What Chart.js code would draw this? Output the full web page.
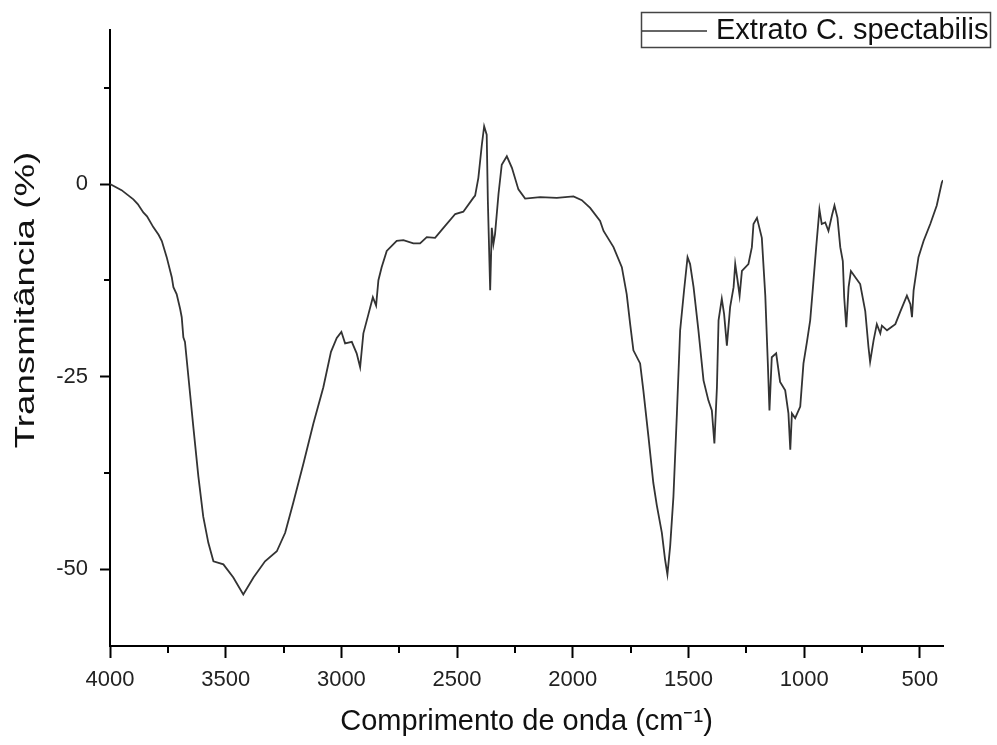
<!DOCTYPE html>
<html>
<head>
<meta charset="utf-8">
<script src="https://cdn.jsdelivr.net/npm/chart.js@4.4.0/dist/chart.umd.min.js"></script>
<style>
  html, body { margin: 0; padding: 0; background: #fff; }
</style>
</head>
<body>
<canvas id="ftirChart" width="997" height="745"></canvas>
<script>
// FTIR spectrum
const wavenumbers = [
  4000, 3950, 3899, 3880, 3856, 3840, 3813, 3790, 3776, 3755, 3733, 3726, 3712, 3697, 3690, 3683, 3676,
  3661, 3640, 3618, 3597, 3575, 3553, 3510, 3467, 3424, 3380, 3330, 3279, 3243, 3208, 3164, 3121, 3078,
  3045, 3020, 3000, 2984, 2955, 2934, 2919, 2905, 2883, 2864, 2850, 2840, 2826, 2804, 2761, 2732, 2689,
  2660, 2631, 2595, 2559, 2508, 2473, 2430, 2422, 2408, 2393, 2383, 2372, 2367, 2357, 2350, 2343, 2336,
  2321, 2307, 2285, 2263, 2235, 2206, 2141, 2069, 1997, 1961, 1925, 1882, 1867, 1824, 1788, 1767, 1752,
  1738, 1709, 1695, 1673, 1652, 1637, 1615, 1601, 1591, 1579, 1565, 1550, 1536, 1519, 1504, 1493, 1478,
  1457, 1435, 1414, 1399, 1388, 1377, 1370, 1356, 1346, 1334, 1320, 1305, 1298, 1288, 1279, 1269, 1241,
  1226, 1219, 1204, 1183, 1168, 1157, 1150, 1140, 1121, 1104, 1082, 1068, 1060, 1053, 1039, 1017, 1003,
  988, 974, 962, 948, 934, 924, 909, 895, 880, 869, 856, 844, 833, 827, 818, 808, 798, 779, 758, 736,
  722, 715, 700, 686, 671, 664, 642, 606, 585, 556, 541, 534, 527, 506, 484, 455, 427, 405, 400
];
const transmittance = [
  0, -0.8, -2.0, -2.6, -3.7, -4.2, -5.6, -6.6, -7.4, -9.5, -12.1, -13.4, -14.3, -16.2, -17.3, -19.9, -20.5,
  -25.1, -31.5, -38.0, -43.2, -46.6, -49.0, -49.4, -51.1, -53.3, -51.1, -49.0, -47.7, -45.3, -41.4, -36.3, -31.1, -26.4,
  -21.8, -20.0, -19.2, -20.7, -20.5, -22.0, -23.8, -19.4, -16.9, -14.7, -15.8, -12.5, -10.8, -8.7, -7.4, -7.3, -7.7,
  -7.7, -6.9, -7.0, -5.7, -3.9, -3.6, -1.8, -1.5, 0.8, 5.1, 7.5, 6.4, -2.2, -13.8, -5.7, -7.8, -6.5,
  -1.3, 2.5, 3.6, 2.1, -0.7, -1.9, -1.7, -1.8, -1.6, -2.1, -3.1, -4.8, -6.1, -8.2, -10.8, -14.3, -18.2,
  -21.6, -23.3, -26.8, -32.8, -38.8, -41.7, -45.3, -48.8, -50.7, -47.0, -40.6, -29.8, -19.0, -13.8, -9.5, -10.4, -13.4,
  -19.0, -25.5, -28.1, -29.4, -33.7, -26.4, -17.7, -14.9, -16.9, -21.0, -16.0, -13.4, -10.4, -12.5, -14.5, -11.3, -10.4,
  -8.2, -5.2, -4.4, -7.0, -14.5, -23.3, -29.4, -22.5, -22.0, -25.7, -26.8, -29.8, -34.5, -29.8, -30.4, -28.9, -23.3,
  -20.5, -17.7, -13.4, -8.2, -3.3, -5.2, -5.0, -6.1, -4.1, -2.8, -4.4, -8.2, -10.0, -14.7, -18.6, -13.4, -11.3, -12.1, -13.0, -16.5,
  -21.2, -23.1, -20.3, -18.2, -19.4, -18.4, -19.0, -18.2, -16.6, -14.5, -15.6, -17.3, -13.8, -9.5, -7.4, -5.2, -2.8, 0.2, 0.5
];
const seriesLabel = 'Extrato C. spectabilis';
const xTitle = 'Comprimento de onda (cm⁻¹)';
const yTitle = 'Transmitância (%)';

const xMajorTicks = [4000, 3500, 3000, 2500, 2000, 1500, 1000, 500];
const xMinorTicks = [3750, 3250, 2750, 2250, 1750, 1250, 750];
const yMajorTicks = [-50, -25, 0];
const yMinorTicks = [-37.5, -12.5, 12.5];

const FONT = "'Liberation Sans', Arial, sans-serif";

// short minor ticks, the y title and the boxed legend in the top right
const extras = {
  id: 'extras',
  afterDraw(chart) {
    const { ctx, chartArea, scales } = chart;
    ctx.save();
    ctx.strokeStyle = '#000';
    ctx.lineWidth = 2;
    ctx.beginPath();
    xMinorTicks.forEach(v => {
      const px = Math.round(scales.x.getPixelForValue(v));
      ctx.moveTo(px, chartArea.bottom);
      ctx.lineTo(px, chartArea.bottom + 7);
    });
    yMinorTicks.forEach(v => {
      const py = Math.round(scales.y.getPixelForValue(v));
      ctx.moveTo(chartArea.left, py);
      ctx.lineTo(chartArea.left - 6, py);
    });
    ctx.stroke();

    // y axis title (the original is drawn a bit stretched along its length)
    ctx.save();
    ctx.translate(27, 300);
    ctx.rotate(-Math.PI / 2);
    ctx.scale(1.36, 1);
    ctx.fillStyle = '#111';
    ctx.font = '27px ' + FONT;
    ctx.textAlign = 'center';
    ctx.textBaseline = 'middle';
    ctx.fillText(yTitle, 0, 0);
    ctx.restore();

    // legend
    const ds = chart.data.datasets[0];
    ctx.lineWidth = 1.5;
    ctx.strokeStyle = '#444';
    ctx.strokeRect(641.5, 12.5, 349, 35);
    ctx.strokeStyle = ds.borderColor;
    ctx.beginPath();
    ctx.moveTo(642, 31);
    ctx.lineTo(707, 31);
    ctx.stroke();
    ctx.fillStyle = '#111';
    ctx.font = '29px ' + FONT;
    ctx.textBaseline = 'middle';
    ctx.fillText(ds.label, 716, 31);
    ctx.restore();
  }
};

const ctx = document.getElementById('ftirChart').getContext('2d');
new Chart(ctx, {
  type: 'line',
  data: {
    datasets: [{
      label: seriesLabel,
      data: wavenumbers.map((w, i) => ({ x: w, y: transmittance[i] })),
      borderColor: '#333',
      borderWidth: 1.8,
      pointRadius: 0,
      tension: 0,
      fill: false
    }]
  },
  options: {
    responsive: false,
    animation: false,
    devicePixelRatio: 1,
    layout: { padding: { top: 30, right: 54, left: 0, bottom: 0 } },
    plugins: {
      legend: { display: false },
      tooltip: { enabled: false }
    },
    scales: {
      x: {
        type: 'linear',
        reverse: true,
        min: 400,
        max: 4000,
        afterBuildTicks: s => { s.ticks = xMajorTicks.map(v => ({ value: v })); },
        afterFit: s => { s.height = 99; },
        grid: { drawOnChartArea: false, tickLength: 12, tickWidth: 2, tickColor: '#000' },
        border: { display: true, color: '#000', width: 2 },
        ticks: {
          color: '#222',
          font: { family: FONT, size: 22 },
          padding: 9,
          maxRotation: 0,
          callback: v => String(v)
        },
        title: {
          display: true,
          text: xTitle,
          color: '#111',
          font: { family: FONT, size: 29 },
          padding: { bottom: 6 }
        }
      },
      y: {
        min: -60,
        max: 20,
        afterBuildTicks: s => { s.ticks = yMajorTicks.map(v => ({ value: v })); },
        afterFit: s => { s.width = 110; },
        grid: { drawOnChartArea: false, tickLength: 10, tickWidth: 2, tickColor: '#000' },
        border: { display: true, color: '#000', width: 2 },
        ticks: {
          color: '#222',
          font: { family: FONT, size: 22 },
          padding: 12,
          callback: v => String(v)
        },
        title: { display: false }
      }
    }
  },
  plugins: [extras]
});
</script>
</body>
</html>
